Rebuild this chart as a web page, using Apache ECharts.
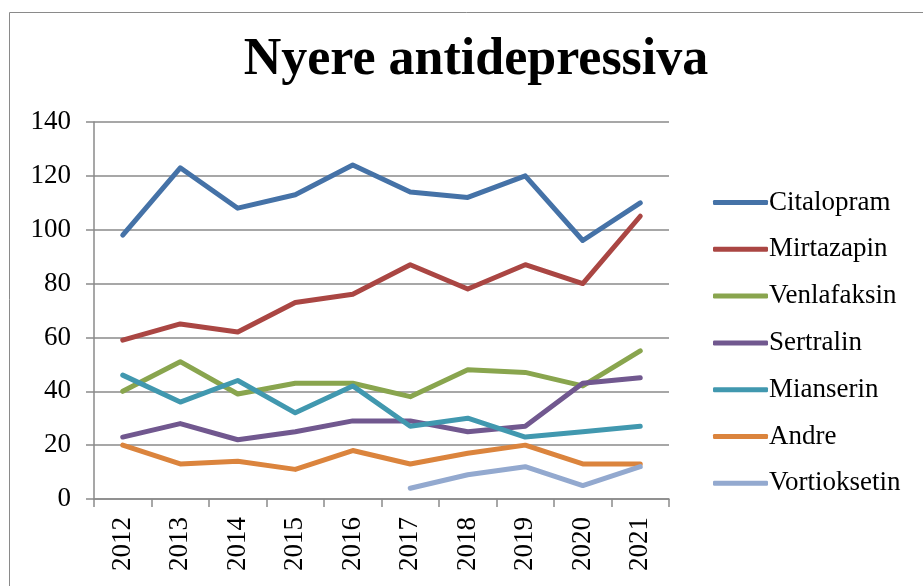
<!DOCTYPE html>
<html>
<head>
<meta charset="utf-8">
<script src="https://cdn.jsdelivr.net/npm/echarts@6/dist/echarts.min.js"></script>
<style>
html, body { margin: 0; padding: 0; background: #fff; }
#chart { width: 923px; height: 586px; }
</style>
</head>
<body>
<div id="chart"></div>
<script>
// data
var years = ['2012', '2013', '2014', '2015', '2016', '2017', '2018', '2019', '2020', '2021'];
var citalopram = [98, 123, 108, 113, 124, 114, 112, 120, 96, 110];
var mirtazapin = [59, 65, 62, 73, 76, 87, 78, 87, 80, 105];
var venlafaksin = [40, 51, 39, 43, 43, 38, 48, 47, 42, 55];
var sertralin = [23, 28, 22, 25, 29, 29, 25, 27, 43, 45];
var mianserin = [46, 36, 44, 32, 42, 27, 30, 23, 25, 27];
var andre = [20, 13, 14, 11, 18, 13, 17, 20, 13, 13];
var vortioksetin = [null, null, null, null, null, 4, 9, 12, 5, 12];

var names = ['Citalopram', 'Mirtazapin', 'Venlafaksin', 'Sertralin', 'Mianserin', 'Andre', 'Vortioksetin'];
var colors = ['#4572A7', '#AA4643', '#89A54E', '#71588F', '#4198AF', '#DB843D', '#93A9CF'];
var values = [citalopram, mirtazapin, venlafaksin, sertralin, mianserin, andre, vortioksetin];

var serif = '"Liberation Serif", "DejaVu Serif", serif';

var myChart = echarts.init(document.getElementById('chart'));

var series = [];
for (var i = 0; i < names.length; i++) {
    series.push({
        name: names[i],
        type: 'line',
        data: values[i],
        symbol: 'none',
        connectNulls: false,
        lineStyle: { color: colors[i], width: 5, cap: 'round', join: 'round' },
        itemStyle: { color: colors[i] }
    });
}

myChart.setOption({
    animation: false,
    backgroundColor: '#fff',
    graphic: [{
        type: 'rect',
        shape: { x: 9.5, y: 12.5, width: 930, height: 600 },
        style: { fill: 'none', stroke: '#8a8a8a', lineWidth: 1 }
    }],
    title: {
        text: 'Nyere antidepressiva',
        left: 471,
        top: 30,
        textAlign: 'center',
        textStyle: { fontFamily: serif, fontWeight: 'bold', fontSize: 52, color: '#000' }
    },
    legend: {
        orient: 'vertical',
        left: 708,
        top: 184,
        itemWidth: 55,
        itemHeight: 5,
        itemGap: 19.8,
        icon: 'roundRect',
        textStyle: { fontFamily: serif, fontSize: 27, color: '#000', padding: [0, 0, 0, -4] },
        data: names
    },
    grid: { left: 94, right: 254, top: 122, bottom: 87, containLabel: false },
    xAxis: {
        type: 'category',
        data: years,
        boundaryGap: true,
        axisLine: { lineStyle: { color: '#8a8a8a', width: 1.5 } },
        axisTick: { show: true, length: 8, lineStyle: { color: '#8a8a8a', width: 1.5 } },
        axisLabel: { rotate: 90, fontFamily: serif, fontSize: 27, color: '#000', margin: 18 }
    },
    yAxis: {
        type: 'value',
        min: 0,
        max: 140,
        interval: 20,
        axisLine: { show: true, lineStyle: { color: '#8a8a8a', width: 1.5 } },
        axisTick: { show: true, length: 8, lineStyle: { color: '#8a8a8a', width: 1.5 } },
        axisLabel: { fontFamily: serif, fontSize: 27, color: '#000', margin: 23 },
        splitLine: { lineStyle: { color: '#8a8a8a', width: 1.5 } }
    },
    series: series
});
</script>
</body>
</html>
